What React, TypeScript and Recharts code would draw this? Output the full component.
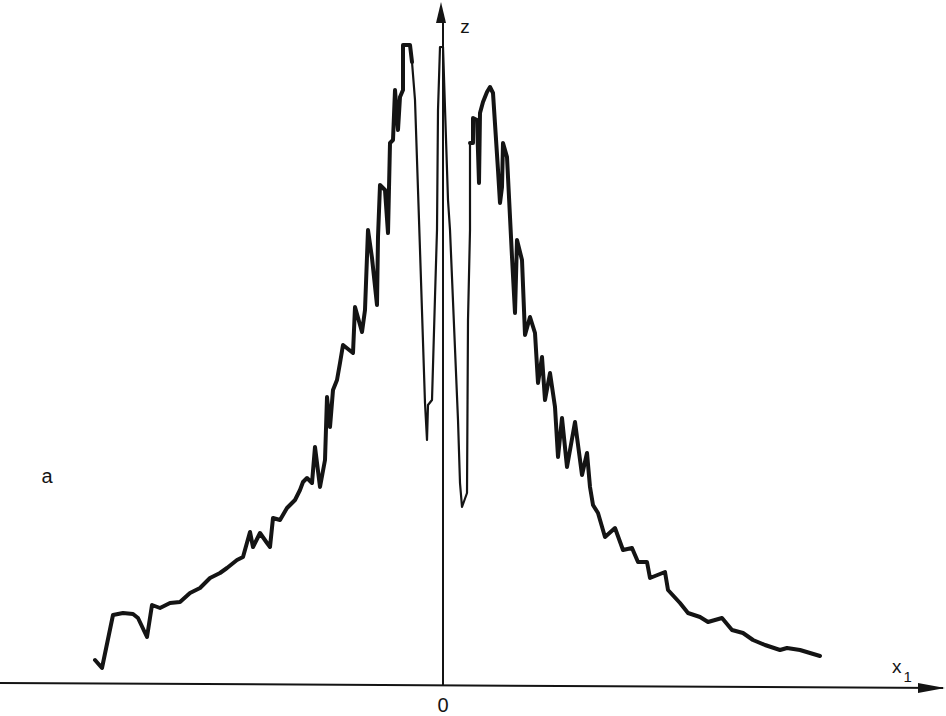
import React from 'react';
import { LineChart, Line, XAxis, YAxis, ReferenceLine, ReferenceDot } from 'recharts';

// x1 positions (arbitrary units, origin at the z axis) and z values
const leftWingX = [-348, -341, -330, -320, -310, -305, -296, -291, -283, -273, -263, -253, -243, -233, -223, -216, -206, -200, -193, -190, -183, -176, -173, -170, -163, -156, -148, -143, -140, -136, -131, -128, -123, -118, -116, -113, -110, -106, -103, -100, -90, -88, -81, -78, -75, -71, -66, -65, -63, -58, -55, -53, -50, -48, -45, -43, -40, -40, -33, -31];
const leftWingZ = [25, 17, 70, 72, 71, 67, 48, 80, 77, 82, 83, 92, 97, 107, 112, 117, 125, 128, 153, 138, 152, 142, 138, 167, 165, 177, 185, 195, 203, 207, 202, 238, 198, 225, 288, 258, 295, 305, 322, 340, 332, 378, 353, 375, 455, 427, 380, 448, 500, 495, 452, 542, 545, 595, 555, 588, 595, 640, 640, 623];
const coreX = [-28, -23, -18, -16, -15, -11, -8, -6, -5, -3, 0, 5, 7, 15, 17, 19, 24, 25, 27];
const coreZ = [585, 435, 282, 245, 280, 285, 388, 455, 575, 638, 638, 485, 455, 265, 202, 178, 192, 365, 455];
const rightWingX = [27, 30, 30, 34, 36, 37, 40, 44, 47, 50, 55, 57, 59, 60, 64, 69, 72, 74, 79, 82, 87, 92, 95, 99, 102, 107, 112, 115, 119, 124, 132, 139, 144, 147, 150, 155, 162, 172, 180, 189, 195, 204, 207, 222, 225, 237, 245, 257, 265, 279, 289, 300, 310, 322, 337, 344, 357, 367, 377];
const rightWingZ = [542, 542, 567, 565, 502, 572, 583, 593, 598, 592, 515, 482, 498, 542, 528, 428, 372, 445, 425, 350, 368, 352, 302, 328, 285, 312, 278, 228, 267, 218, 263, 210, 232, 198, 180, 172, 148, 157, 135, 137, 123, 123, 107, 113, 95, 82, 72, 68, 63, 67, 55, 52, 45, 40, 35, 37, 35, 32, 29];

type Row = { x: number; zL?: number; zC?: number; zR?: number };
const rows: Row[] = [];
leftWingX.forEach((x, i) => rows.push({ x, zL: leftWingZ[i] }));
// join points shared between the thick wings and the thin core
rows[rows.length - 1].zC = leftWingZ[leftWingZ.length - 1];
coreX.forEach((x, i) => rows.push({ x, zC: coreZ[i] }));
rightWingX.forEach((x, i) => rows.push({ x, zR: rightWingZ[i], zC: i === 0 ? rightWingZ[0] : undefined }));
const data = rows;

const INK = '#141414';
const FONT = '"Liberation Sans", "DejaVu Sans", sans-serif';

const upArrow = (p: any) => (
  <path d={`M${p.cx},${p.cy} L${p.cx - 5},${p.cy + 21} L${p.cx + 5},${p.cy + 21} Z`} fill={INK} />
);
const rightArrow = (p: any) => (
  <path d={`M${p.cx},${p.cy} L${p.cx - 27},${p.cy - 5} L${p.cx - 27},${p.cy + 5} Z`} fill={INK} />
);
const textShape = (t: string, size: number) => (p: any) => (
  <text x={p.cx} y={p.cy} fontSize={size} fontFamily={FONT} fill={INK} textAnchor="middle" dominantBaseline="middle">
    {t}
  </text>
);
const x1Shape = (p: any) => (
  <text x={p.cx} y={p.cy} fontSize={19} fontFamily={FONT} fill={INK} textAnchor="middle" dominantBaseline="middle">
    x<tspan fontSize={15} dx={2} dy={10}>1</tspan>
  </text>
);

export default function App() {
  return (
    <div style={{ position: 'absolute', left: 0, top: 0, width: 946, height: 716, background: '#fff' }}>
      <LineChart width={946} height={716} data={data} margin={{ top: 0, right: 0, bottom: 0, left: 0 }}>
        <XAxis type="number" dataKey="x" domain={[-443, 503]} hide allowDataOverflow />
        <YAxis type="number" domain={[-31, 685]} hide allowDataOverflow />
        <ReferenceLine segment={[{ x: -443, y: 2 }, { x: 500, y: -3 }]} stroke={INK} strokeWidth={2} />
        <ReferenceLine segment={[{ x: 0, y: 0 }, { x: 0, y: 670 }]} stroke={INK} strokeWidth={2} />
        <ReferenceDot x={-2} y={683} r={0} shape={upArrow} />
        <ReferenceDot x={502} y={-3} r={0} shape={rightArrow} />
        <ReferenceDot x={22} y={657} r={0} shape={textShape('z', 19)} />
        <ReferenceDot x={0} y={-22} r={0} shape={textShape('0', 20)} />
        <ReferenceDot x={-396} y={207} r={0} shape={textShape('a', 20)} />
        <ReferenceDot x={459} y={17} r={0} shape={x1Shape} />
        <Line dataKey="zL" type="linear" stroke={INK} strokeWidth={4} dot={false} activeDot={false} connectNulls isAnimationActive={false} strokeLinejoin="round" strokeLinecap="round" />
        <Line dataKey="zC" type="linear" stroke={INK} strokeWidth={2.2} dot={false} activeDot={false} connectNulls isAnimationActive={false} strokeLinejoin="round" strokeLinecap="round" />
        <Line dataKey="zR" type="linear" stroke={INK} strokeWidth={4} dot={false} activeDot={false} connectNulls isAnimationActive={false} strokeLinejoin="round" strokeLinecap="round" />
      </LineChart>
    </div>
  );
}
